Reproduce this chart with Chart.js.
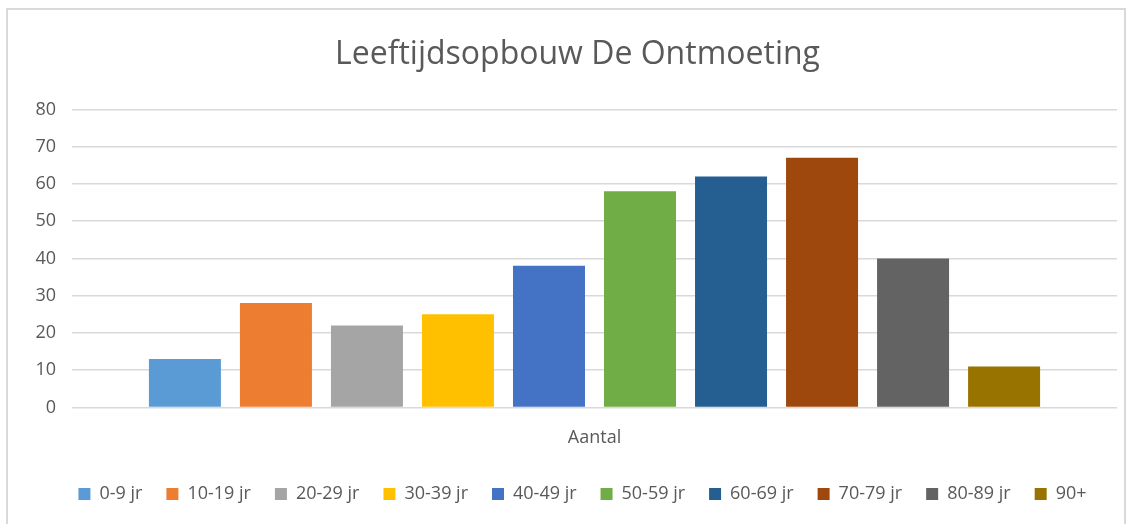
<!DOCTYPE html>
<html>
<head>
<meta charset="utf-8">
<script src="https://cdn.jsdelivr.net/npm/chart.js@4/dist/chart.umd.min.js"></script>
<style>
  body{margin:0;background:#fff;}
  #frame{position:absolute;left:6px;top:8px;width:1116px;height:530px;border:2px solid #d9d9d9;}
  #wrap{position:absolute;left:0;top:0;width:1132px;height:524px;}
</style>
</head>
<body>
<div id="frame"></div>
<div id="wrap"><canvas id="myChart"></canvas></div>
<script>
const categories=['Aantal'];
const groups=['0-9 jr','10-19 jr','20-29 jr','30-39 jr','40-49 jr','50-59 jr','60-69 jr','70-79 jr','80-89 jr','90+'];
const values=[13,28,22,25,38,58,62,67,40,11];
const colors=['#5b9bd5','#ed7d31','#a5a5a5','#ffc000','#4472c4','#70ad47','#255e91','#9e480e','#636363','#997300'];
const yTicks=[0,10,20,30,40,50,60,70,80];

// shift title and legend a bit to the right, like the original
const nudge={
  id:'nudge',
  afterLayout(chart){
    if(chart.titleBlock){chart.titleBlock.left+=19;chart.titleBlock.right+=19;}
    if(chart.legend){chart.legend.left+=24;chart.legend.right+=24;}
  }
};

const ctx=document.getElementById('myChart').getContext('2d');
const chart=new Chart(ctx,{
  type:'bar',
  data:{
    labels:categories,
    datasets:groups.map((g,i)=>({
      label:g,
      data:[values[i]],
      backgroundColor:colors[i],
      borderWidth:0,
      categoryPercentage:0.871,
      barPercentage:0.791
    }))
  },
  options:{
    responsive:true,
    maintainAspectRatio:false,
    animation:false,
    layout:{padding:{left:0,right:15,top:8,bottom:11}},
    plugins:{
      title:{display:true,text:'Leeftijdsopbouw De Ontmoeting',color:'#595959',
        font:{family:'Open Sans',size:32,weight:'normal'},padding:{top:28,bottom:35}},
      legend:{position:'bottom',
        labels:{boxWidth:12,boxHeight:12,color:'#595959',padding:24,
          font:{family:'Open Sans',size:18}}},
      tooltip:{enabled:false}
    },
    scales:{
      x:{
        grid:{display:false},
        border:{display:false},
        ticks:{color:'#595959',font:{family:'Open Sans',size:18},padding:12}
      },
      y:{
        min:0,max:80,
        afterBuildTicks:(ax)=>{ax.ticks=yTicks.map(v=>({value:v}));},
        afterFit:(ax)=>{ax.width=72;},
        grid:{color:'#d9d9d9',lineWidth:1.5,drawTicks:false},
        border:{display:false},
        ticks:{color:'#595959',font:{family:'Open Sans',size:18},padding:16}
      }
    }
  },
  plugins:[nudge]
});
</script>
</body>
</html>
